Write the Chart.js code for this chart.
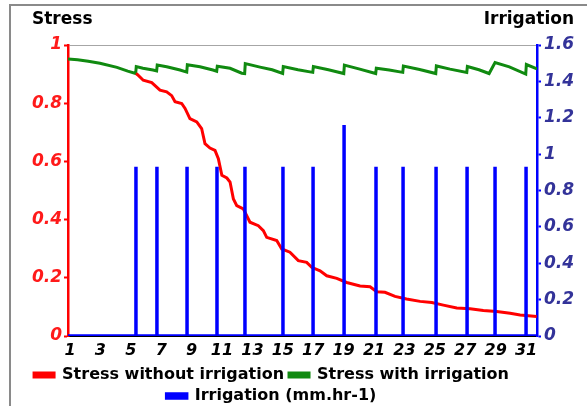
<!DOCTYPE html>
<html>
<head>
<meta charset="utf-8">
<script src="https://cdn.jsdelivr.net/npm/chart.js@4.4.0/dist/chart.umd.min.js"></script>
<style>
  html, body { margin: 0; padding: 0; background: #ffffff; overflow: hidden; }
  #wrap { position: relative; width: 587px; height: 406px; overflow: hidden; }
  #frameTop { position: absolute; left: 9px; top: 4px; width: 578px; height: 0;
              border-top: 2px solid #8a8a8a; }
  #frameLeft { position: absolute; left: 9px; top: 4px; width: 0; height: 402px;
               border-left: 2px solid #8a8a8a; }
  canvas { position: absolute; left: 0; top: 0; }
</style>
</head>
<body>
<div id="wrap">
  <div id="frameTop"></div>
  <div id="frameLeft"></div>
  <canvas id="c" width="587" height="406"></canvas>
</div>
<script>
// ---- data (x in days) ----
const xTickValues = [1, 3, 5, 7, 9, 11, 13, 15, 17, 19, 21, 23, 25, 27, 29, 31];
const xTickLabels = ['1','3','5','7','9','11','13','15','17','19','21','23','25','27','29','31'];
const stressTicks = [0, 0.2, 0.4, 0.6, 0.8, 1];
const irrigationTicks = [0, 0.2, 0.4, 0.6, 0.8, 1, 1.2, 1.4, 1.6];

const irrigationDays    = [5.34, 6.72, 8.70, 10.67, 12.51, 15.01, 16.99, 19.03, 21.13, 22.91, 25.08, 27.12, 28.96, 31.0];
const irrigationAmounts = [0.93, 0.93, 0.93, 0.93, 0.93, 0.93, 0.93, 1.16, 0.93, 0.93, 0.93, 0.93, 0.93, 0.93];

const withoutDays = [5.34,5.43,5.82,6.38,6.92,7.36,7.69,7.91,8.35,8.57,8.89,9.34,9.66,9.88,10.21,10.54,10.76,10.99,11.32,11.53,11.75,11.97,12.40,12.84,13.39,13.72,13.94,14.60,14.93,15.47,16.02,16.57,16.90,17.45,17.89,18.55,19.20,20.08,20.74,21.18,21.72,22.38,23.14,24.03,24.80,25.56,26.44,27.32,28.19,29.07,29.95,30.61,31.70];
const withoutStress = [0.902,0.899,0.879,0.871,0.845,0.839,0.826,0.805,0.799,0.782,0.747,0.736,0.713,0.661,0.646,0.638,0.609,0.552,0.543,0.529,0.471,0.448,0.437,0.391,0.379,0.362,0.339,0.328,0.299,0.288,0.259,0.253,0.236,0.224,0.207,0.198,0.184,0.172,0.169,0.152,0.150,0.136,0.127,0.119,0.115,0.106,0.096,0.094,0.088,0.084,0.078,0.072,0.067];

const withDays = [0.87,1.5,2.2,2.97,4.09,4.8,5.32,5.36,5.8,6.46,6.70,6.74,7.36,8.24,8.68,8.72,9.55,10.4,10.65,10.69,11.53,12.3,12.49,12.53,13.5,14.3,14.99,15.03,16.0,16.97,17.01,18.0,19.01,19.05,20.0,21.11,21.15,22.0,22.89,22.93,24.0,25.06,25.10,26.0,27.10,27.14,27.9,28.57,28.96,29.9,30.98,31.02,31.72];
const withStress = [0.952,0.949,0.944,0.937,0.923,0.910,0.902,0.926,0.920,0.914,0.911,0.931,0.925,0.914,0.907,0.932,0.925,0.914,0.910,0.927,0.920,0.903,0.902,0.936,0.924,0.915,0.902,0.926,0.915,0.906,0.926,0.915,0.902,0.931,0.918,0.902,0.920,0.914,0.906,0.928,0.916,0.902,0.928,0.917,0.906,0.926,0.915,0.902,0.940,0.925,0.900,0.933,0.918];

const X_MIN = 0.87, X_MAX = 31.72;

// build point lists from the arrays
const withoutPts = withoutDays.map((d, i) => ({ x: d, y: withoutStress[i] }));
const withPts = withDays.map((d, i) => ({ x: d, y: withStress[i] }));
const irrPts = [{ x: X_MIN, y: 0 }];
irrigationDays.forEach((d, i) => {
  irrPts.push({ x: d, y: 0 }, { x: d, y: irrigationAmounts[i] }, { x: d, y: 0 });
});
irrPts.push({ x: X_MAX, y: 0 });

const FONT = "'DejaVu Sans', Verdana, sans-serif";

const titlesPlugin = {
  id: 'titles',
  afterLayout(chart) {
    // legend block sits slightly left of centre in the reference
    if (chart.legend) { chart.legend.left -= 22; chart.legend.right -= 22; }
  },
  afterDraw(chart) {
    const { ctx, chartArea } = chart;
    ctx.save();
    ctx.fillStyle = '#000';
    ctx.font = 'bold 17px ' + FONT;
    ctx.textBaseline = 'alphabetic';
    ctx.textAlign = 'left';
    ctx.fillText('Stress', chartArea.left - 36, 24);
    ctx.textAlign = 'right';
    ctx.fillText('Irrigation', chartArea.right + 37, 24);
    ctx.restore();
  }
};

new Chart(document.getElementById('c'), {
  type: 'line',
  data: {
    datasets: [
      { label: 'Stress without irrigation', data: withoutPts, yAxisID: 'y',
        borderColor: '#ff0000', backgroundColor: '#ff0000', borderWidth: 3, order: 1 },
      { label: 'Stress with irrigation', data: withPts, yAxisID: 'y',
        borderColor: '#108a10', backgroundColor: '#108a10', borderWidth: 3, order: 2 },
      { label: 'Irrigation (mm.hr-1)', data: irrPts, yAxisID: 'y2',
        borderColor: '#0000ff', backgroundColor: '#0000ff', borderWidth: 3.5, order: 0 }
    ]
  },
  options: {
    responsive: false,
    animation: false,
    elements: { point: { radius: 0 }, line: { tension: 0, borderJoinStyle: 'miter' } },
    layout: { padding: { left: 0, right: 0, top: 45, bottom: -8 } },
    plugins: {
      tooltip: { enabled: false },
      legend: {
        position: 'bottom',
        labels: {
          boxWidth: 20, boxHeight: 4, padding: 5, color: '#000',
          font: { family: FONT, size: 16, weight: 'bold' },
          sort: (a, b) => a.datasetIndex - b.datasetIndex
        }
      }
    },
    scales: {
      x: {
        type: 'linear', min: X_MIN, max: X_MAX,
        afterBuildTicks: s => { s.ticks = xTickValues.map(v => ({ value: v })); },
        afterFit: s => { s.height = 26; },
        grid: { display: false, tickLength: 0 },
        border: { display: true, color: '#000', width: 1 },
        ticks: {
          autoSkip: false, maxRotation: 0, padding: 5, color: '#000',
          font: { family: FONT, size: 16, weight: 'bold', style: 'italic' },
          callback: v => { const i = xTickValues.indexOf(v); return i >= 0 ? xTickLabels[i] : ''; }
        }
      },
      y: {
        position: 'left', min: 0, max: 1,
        afterBuildTicks: s => { s.ticks = stressTicks.map(v => ({ value: v })); },
        afterFit: s => { s.width = 68; },
        border: { display: true, color: '#ff0000', width: 2.5 },
        grid: {
          drawOnChartArea: true, tickLength: 4, tickColor: '#ff0000', tickWidth: 2,
          color: c => (c.tick && c.tick.value === 1) ? '#a6a6a6' : 'rgba(0,0,0,0)',
          lineWidth: 1
        },
        ticks: {
          padding: 2, color: '#ff1a1a',
          font: { family: FONT, size: 17, weight: 'bold', style: 'italic' },
          callback: v => String(+v.toFixed(1))
        }
      },
      y2: {
        position: 'right', min: 0, max: 1.6,
        afterBuildTicks: s => { s.ticks = irrigationTicks.map(v => ({ value: v })); },
        afterFit: s => { s.width = 50; },
        border: { display: true, color: '#0000ff', width: 2.5 },
        grid: { drawOnChartArea: false, tickLength: 4, tickColor: '#0000ff', tickWidth: 2 },
        ticks: {
          padding: 3, color: '#333399',
          font: { family: FONT, size: 17, weight: 'bold', style: 'italic' },
          callback: v => String(+v.toFixed(1))
        }
      }
    }
  },
  plugins: [titlesPlugin]
});
</script>
</body>
</html>
